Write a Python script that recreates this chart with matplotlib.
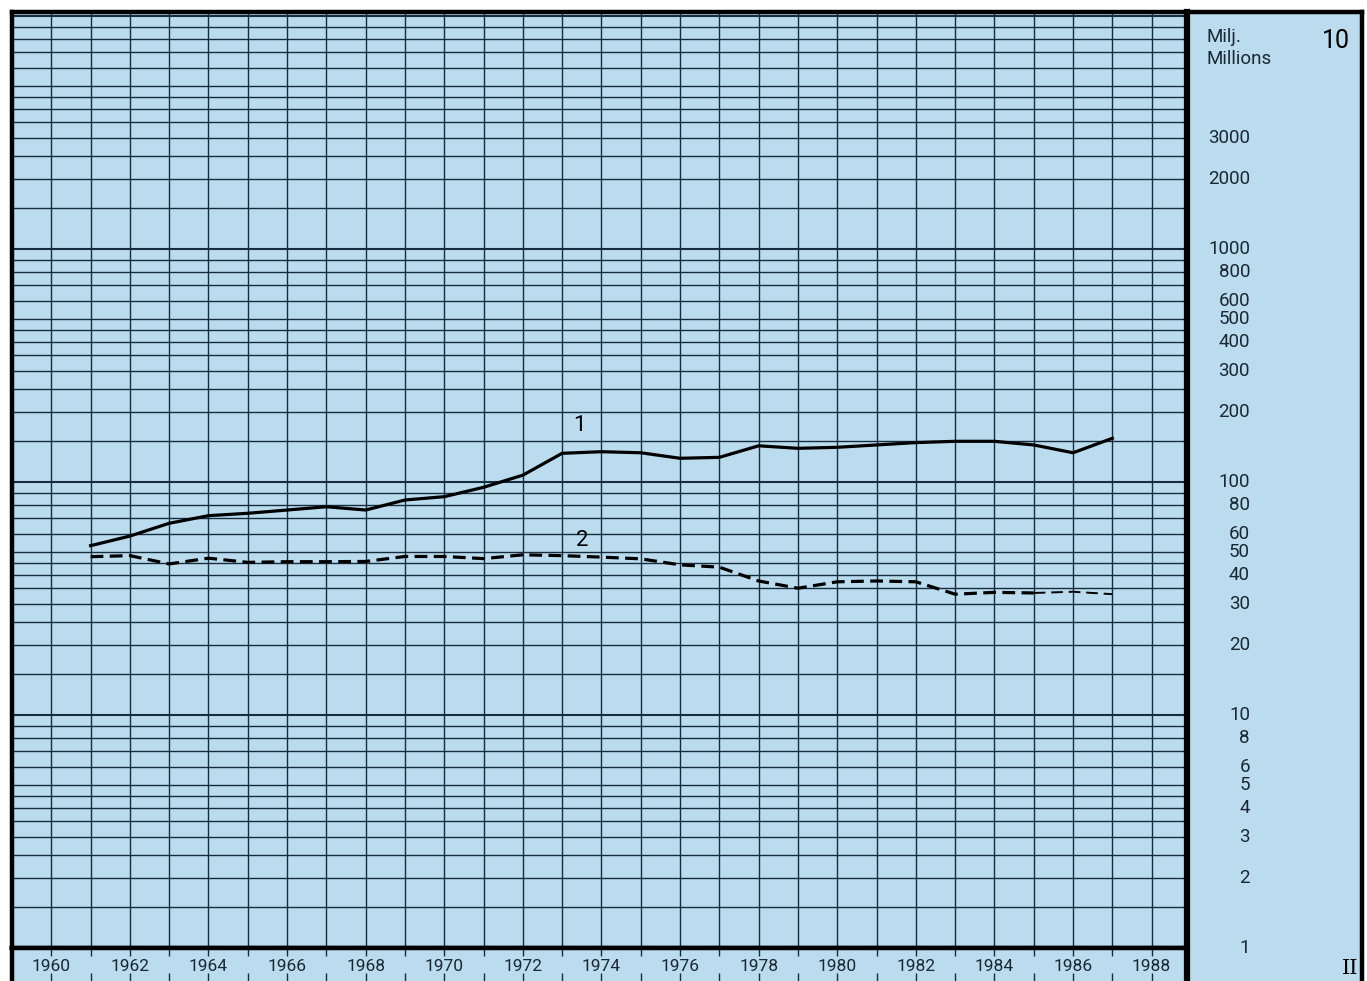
import matplotlib
matplotlib.use("Agg")
import matplotlib.pyplot as plt
import matplotlib.transforms as mtransforms
from matplotlib.ticker import NullLocator

# ---- data ----
years = list(range(1961, 1988))
series1 = [53.3, 58.6, 66.5, 71.7, 73.4, 75.8, 78.3, 75.8, 83.7, 86.5, 94.9, 107.0,
           132.8, 134.9, 133.5, 126.4, 127.6, 143.0, 139.5, 140.9, 144.2, 147.6,
           149.5, 149.5, 144.2, 133.5, 154.0]
series2 = [47.8, 48.3, 44.5, 47.1, 45.2, 45.5, 45.5, 45.6, 47.9, 47.9, 46.9, 48.7,
           48.3, 47.6, 46.8, 44.1, 43.1, 37.6, 35.0, 37.3, 37.6, 37.3,
           33.0, 33.6, 33.4, 33.8, 33.0]
series_labels = ["1", "2"]
y_tick_values = [3000, 2000, 1000, 800, 600, 500, 400, 300, 200, 100, 80, 60, 50,
                 40, 30, 20, 10, 8, 6, 5, 4, 3, 2, 1]
y_tick_labels = ["3000", "2000", "1000", "800", "600", "500", "400", "300", "200",
                 "100", "80", "60", "50", "40", "30", "20", "10", "8", "6", "5",
                 "4", "3", "2", "1"]
year_labels = list(range(1960, 1989, 2))
unit_lines = ["Milj.", "Millions"]
chart_number = "10"
page_mark = "II"

# ---- style ----
BG = "#badcee"
INK = "#172c3c"
TXT = "#1b2733"
W, H = 1367, 981
FONT = "Roboto"

fig = plt.figure(figsize=(W / 100, H / 100), dpi=100)
fig.patch.set_facecolor("white")


def fr(x0, y0, x1, y1):
    return [x0 / W, 1 - y1 / H, (x1 - x0) / W, (y1 - y0) / H]


# main grid axes
ax = fig.add_axes(fr(12, 12, 1187, 948))
ax.set_facecolor(BG)
ax.set_yscale("log")
ax.set_ylim(1, 10 ** ((948 - 12) / 233))
ax.set_xlim(1959, 1988.9)
ax.xaxis.set_major_locator(NullLocator())
ax.xaxis.set_minor_locator(NullLocator())
ax.yaxis.set_major_locator(NullLocator())
ax.yaxis.set_minor_locator(NullLocator())

mults = [1, 1.5, 2, 2.5, 3, 3.5, 4, 4.5, 5, 6, 7, 8, 9]
for dec in [1, 10, 100, 1000]:
    for m in mults:
        lw = 1.5 if m == 1 else 1.0
        ax.axhline(dec * m, color=INK, lw=lw, zorder=1)
ax.axhline(10000, color=INK, lw=1.5, zorder=1)
for yr in range(1959, 1990):
    ax.axvline(yr, color=INK, lw=1.0, zorder=1)

for s in ax.spines.values():
    s.set_linewidth(3.2)
    s.set_color("black")

ax.plot(years, series1, color="black", lw=2.3, zorder=3, solid_joinstyle="round")
ax.plot(years[:25], series2[:25], color="black", lw=2.3, zorder=3,
        dashes=(4, 2))
ax.plot(years[24:], series2[24:], color="black", lw=1.4, zorder=3,
        dashes=(6, 3))
ax.text(1973.45, 174, series_labels[0], fontsize=16, color="black",
        ha="center", va="center", family=FONT, zorder=4)
ax.text(1973.5, 56, series_labels[1], fontsize=16, color="black",
        ha="center", va="center", family=FONT, zorder=4)

# bottom year strip
axb = fig.add_axes(fr(12, 948, 1187, 981))
axb.set_facecolor(BG)
axb.set_xlim(1959, 1988.9)
axb.set_ylim(0, 1)
axb.set_xticks(list(range(1960, 1989)))
axb.set_yticks([])
axb.tick_params(axis="x", direction="in", top=True, bottom=True, length=6,
                width=1.0, color=INK, labelbottom=False)
for k, s in axb.spines.items():
    s.set_color("black")
    s.set_linewidth(3.2)
axb.spines["bottom"].set_visible(False)
for yr in year_labels:
    axb.text(yr, 0.45, str(yr), ha="center", va="center", fontsize=12.5,
             color=TXT, family=FONT)

# right label panel
axr = fig.add_axes(fr(1187, 12, 1362, 981))
axr.set_facecolor(BG)
axr.set_xticks([])
axr.set_yticks([])
for k, s in axr.spines.items():
    s.set_color("black")
    s.set_linewidth(3.2)
axr.spines["bottom"].set_visible(False)
axr.spines["left"].set_linewidth(4.5)

trans = mtransforms.blended_transform_factory(fig.transFigure, ax.transData)
for v, lab in zip(y_tick_values, y_tick_labels):
    fig.text(1250 / W, v, lab, transform=trans, ha="right", va="center",
             fontsize=13.5, color=TXT, family=FONT)

fig.text(1207 / W, 1 - 37 / H, unit_lines[0], ha="left", va="center",
         fontsize=13.5, color=TXT, family=FONT)
fig.text(1207 / W, 1 - 59 / H, unit_lines[1], ha="left", va="center",
         fontsize=13.5, color=TXT, family=FONT)
fig.text(1336 / W, 1 - 41 / H, chart_number, ha="center", va="center",
         fontsize=18, color="black", family=FONT)
fig.text(1350 / W, 1 - 968 / H, page_mark, ha="center", va="center",
         fontsize=15, color="black", family="DejaVu Serif")

fig.savefig("out.png", dpi=100, facecolor="white")
